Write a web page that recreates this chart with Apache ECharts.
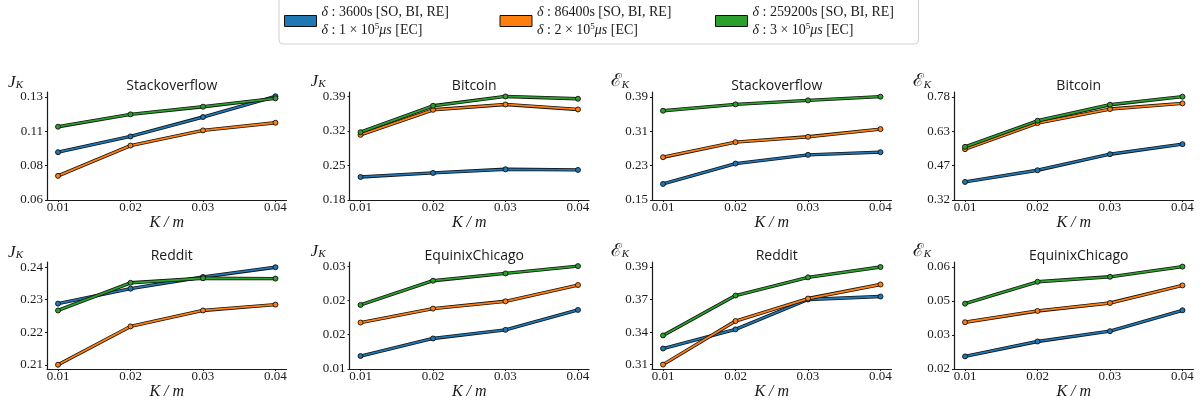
<!DOCTYPE html>
<html>
<head>
<meta charset="utf-8">
<script src="https://cdn.jsdelivr.net/npm/echarts@6/dist/echarts.min.js"></script>
<style>
html,body{margin:0;padding:0;background:#fff;}
#chart{width:1203px;height:409px;}
</style>
</head>
<body>
<div id="chart"></div>
<script>
// ---------------- data ----------------
const xValues = [0.01, 0.02, 0.03, 0.04];
const xTickValues = [0.01, 0.02, 0.03, 0.04];
const xAxisMin = 0.00848, xAxisMax = 0.04152;

const panelTitles = ['Stackoverflow', 'Bitcoin', 'Stackoverflow', 'Bitcoin',
                     'Reddit', 'EquinixChicago', 'Reddit', 'EquinixChicago'];
const panelMetric = ['J', 'J', 'E', 'E', 'J', 'J', 'E', 'E'];

const legendLine1 = ['3600s [SO, BI, RE]', '86400s [SO, BI, RE]', '259200s [SO, BI, RE]'];
const legendLine2 = ['1', '2', '3'];

const blueValues = [
  [0.0925, 0.1032, 0.1164, 0.1305],
  [0.2267, 0.2349, 0.2423, 0.2410],
  [0.1874, 0.2349, 0.2552, 0.2615],
  [0.4007, 0.4529, 0.5246, 0.5694],
  [0.2288, 0.2334, 0.2370, 0.2400],
  [0.01252, 0.01594, 0.01761, 0.02148],
  [0.3255, 0.3416, 0.3667, 0.3692],
  [0.02494, 0.03078, 0.03481, 0.04299]
];
const orangeValues = [
  [0.0764, 0.0970, 0.1073, 0.1125],
  [0.3121, 0.3629, 0.3737, 0.3636],
  [0.2497, 0.2848, 0.2973, 0.3152],
  [0.5470, 0.6635, 0.7262, 0.7516],
  [0.2100, 0.2218, 0.2267, 0.2285],
  [0.01903, 0.02174, 0.02316, 0.02632],
  [0.3120, 0.3486, 0.3675, 0.3793],
  [0.03831, 0.04273, 0.04584, 0.05273]
];
const greenValues = [
  [0.1098, 0.1182, 0.1234, 0.1291],
  [0.3175, 0.3710, 0.3900, 0.3853],
  [0.3580, 0.3729, 0.3822, 0.3908],
  [0.5575, 0.6740, 0.7456, 0.7815],
  [0.2267, 0.2352, 0.2366, 0.2365],
  [0.02245, 0.02716, 0.02858, 0.03000],
  [0.3365, 0.3700, 0.3853, 0.3940],
  [0.04558, 0.05416, 0.05610, 0.06010]
];

const yAxisMin = [0.06, 0.18, 0.15, 0.32, 0.2087, 0.01, 0.3083, 0.02];
const yAxisMax = [0.1334, 0.399, 0.4017, 0.8024, 0.2416, 0.0308, 0.3982, 0.0619];
const yTickValues = [
  [0.06, 0.08333, 0.10667, 0.13],
  [0.18, 0.25, 0.32, 0.39],
  [0.15, 0.23, 0.31, 0.39],
  [0.32, 0.47333, 0.62667, 0.78],
  [0.21, 0.22, 0.23, 0.24],
  [0.01, 0.016667, 0.023333, 0.03],
  [0.312, 0.3393, 0.3667, 0.394],
  [0.02, 0.03333, 0.04667, 0.06]
];

// ---------------- layout / style ----------------
const colors = ['#1f77b4', '#ff7f0e', '#2ca02c'];
const seriesNames = ['s0', 's1', 's2'];
const gridLefts = [47, 349.5, 652, 954];
const gridWidth = 239.5;
const rowTops = [92, 262];
const rowHeights = [108, 107];
const serif = '"Liberation Serif", "DejaVu Serif", serif';
const sans = '"Open Sans", "Noto Sans", sans-serif';
const ink = '#1a1a1a';

const grids = [], xAxes = [], yAxes = [], titles = [], series = [];

for (let p = 0; p < 8; p++) {
  const row = Math.floor(p / 4), col = p % 4;
  grids.push({ left: gridLefts[col], top: rowTops[row], width: gridWidth, height: rowHeights[row], containLabel: false });
  titles.push({
    text: panelTitles[p],
    left: gridLefts[col] + gridWidth / 2,
    top: rowTops[row] - 18,
    textAlign: 'center',
    textStyle: { fontFamily: sans, fontSize: 14, fontWeight: 'normal', color: ink }
  });
  xAxes.push({
    type: 'value', gridIndex: p, min: xAxisMin, max: xAxisMax,
    name: 'K / m', nameLocation: 'middle', nameGap: 14,
    nameTextStyle: { fontFamily: serif, fontStyle: 'italic', fontSize: 16, color: ink },
    axisLine: { onZero: false, lineStyle: { color: ink, width: 1.2 } },
    axisTick: { show: true, length: 2, customValues: xTickValues, lineStyle: { color: ink } },
    axisLabel: { customValues: xTickValues, margin: 1, fontFamily: serif, fontSize: 13, color: ink,
                 formatter: v => v.toFixed(2) },
    splitLine: { show: false }
  });
  const isE = panelMetric[p] === 'E';
  yAxes.push({
    type: 'value', gridIndex: p, min: yAxisMin[p], max: yAxisMax[p],
    name: isE ? '{m|ℰ}{s|K}' : '{m|J}{s|K}',
    nameLocation: 'end', nameGap: -2,
    nameTextStyle: {
      align: 'right', padding: [0, isE ? 23 : 24, 0, 0],
      rich: {
        m: { fontFamily: serif, fontStyle: isE ? 'normal' : 'italic', fontSize: isE ? 18 : 17, color: ink },
        s: { fontFamily: serif, fontStyle: 'italic', fontSize: 11, color: ink, padding: [6, 0, 0, 0] }
      }
    },
    axisLine: { show: true, lineStyle: { color: ink, width: 1.2 } },
    axisTick: { show: true, length: 2, customValues: yTickValues[p], lineStyle: { color: ink } },
    axisLabel: { customValues: yTickValues[p], margin: 4, fontFamily: serif, fontSize: 13, color: ink,
                 formatter: v => v.toFixed(2) },
    splitLine: { show: false }
  });

  const sets = [blueValues[p], orangeValues[p], greenValues[p]];
  sets.forEach((vals, k) => {
    const data = xValues.map((x, i) => [x, vals[i]]);
    series.push({
      type: 'line', name: '_outline' + p + '_' + k, xAxisIndex: p, yAxisIndex: p, data: data,
      showSymbol: false, symbol: 'none', silent: true,
      lineStyle: { color: '#111', width: 3.4 }, z: 2 + k * 2, animation: false
    });
    series.push({
      type: 'line', name: seriesNames[k], xAxisIndex: p, yAxisIndex: p, data: data,
      symbol: 'circle', symbolSize: 5,
      itemStyle: { color: colors[k], borderColor: '#111', borderWidth: 0.9 },
      lineStyle: { color: colors[k], width: 1.8 }, z: 3 + k * 2, animation: false
    });
  });
}

const chart = echarts.init(document.getElementById('chart'), null, { renderer: 'canvas' });
chart.setOption({
  animation: false,
  backgroundColor: '#fff',
  title: titles,
  grid: grids,
  xAxis: xAxes,
  yAxis: yAxes,
  legend: {
    data: seriesNames,
    left: 279, top: -4,
    orient: 'horizontal',
    icon: 'rect', itemWidth: 32, itemHeight: 11, itemGap: 13,
    padding: [7, 1, 5, 5],
    backgroundColor: '#fff', borderColor: '#cfcfcf', borderWidth: 1, borderRadius: 4,
    itemStyle: { borderColor: '#111', borderWidth: 1 },
    selectedMode: false,
    formatter: name => {
      const k = seriesNames.indexOf(name);
      return '{i|δ} : ' + legendLine1[k] + '\n{i|δ} : ' + legendLine2[k] + ' × 10{sup|5}{i|μs} [EC]';
    },
    textStyle: {
      fontFamily: serif, fontSize: 14, color: ink, lineHeight: 18, width: 165,
      rich: {
        i: { fontFamily: serif, fontStyle: 'italic', fontSize: 14, color: ink, lineHeight: 18 },
        sup: { fontFamily: serif, fontSize: 9, color: ink, padding: [0, 0, 7, 0], lineHeight: 18 }
      }
    }
  },
  series: series
});
</script>
</body>
</html>
